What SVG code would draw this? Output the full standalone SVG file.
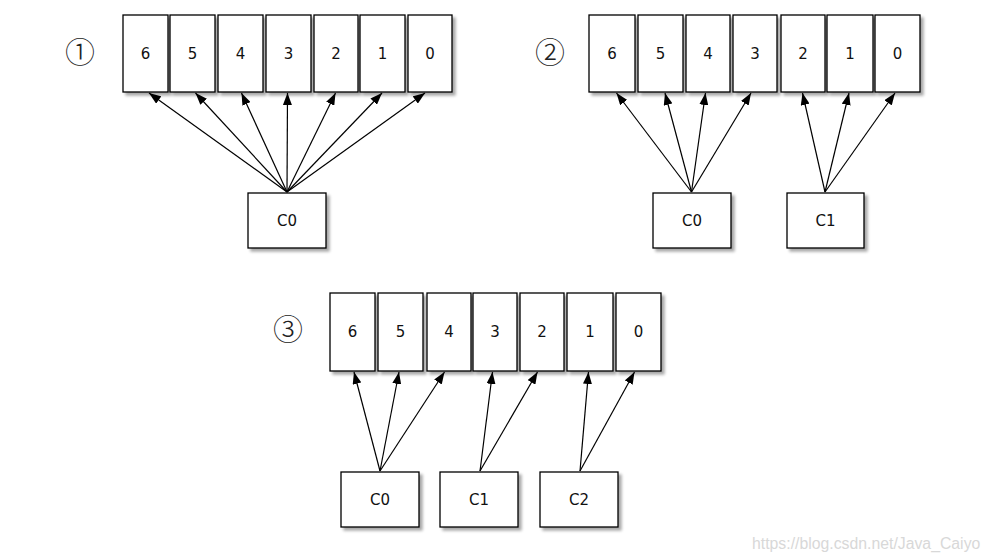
<svg xmlns="http://www.w3.org/2000/svg" width="992" height="560" viewBox="0 0 992 560">
<style>
.b{fill:#fff;stroke:#000;stroke-width:1.3;filter:url(#sh)}
.t{font-family:"DejaVu Sans","Liberation Sans",Arial,sans-serif;font-size:15px;fill:#111;text-anchor:middle}
.n{font-family:"Noto Sans CJK SC","DejaVu Sans",serif;font-size:30px;fill:#222;text-anchor:middle;font-weight:300}
.c line{stroke:#000;stroke-width:1.2;marker-end:url(#ah)}
.w{font-family:"Liberation Sans",Arial,sans-serif;font-size:15.8px;fill:#d8d8d8}
</style>
<defs>
<filter id="sh" x="-20%" y="-20%" width="150%" height="150%">
<feGaussianBlur in="SourceAlpha" stdDeviation="1.6"/>
<feOffset dx="2.5" dy="2.5" result="o"/>
<feComponentTransfer><feFuncA type="linear" slope="0.35"/></feComponentTransfer>
<feMerge><feMergeNode/><feMergeNode in="SourceGraphic"/></feMerge>
</filter>
<marker id="ah" viewBox="0 0 12 9" refX="12" refY="4.5" markerWidth="12" markerHeight="9" markerUnits="userSpaceOnUse" orient="auto">
<path d="M0,0 L12,4.5 L0,9 z" fill="#000"/>
</marker>
</defs>
<rect width="992" height="560" fill="#fff"/>

<!-- Diagram 1 -->
<text class="n" x="80" y="63">①</text>
<g id="d1-6"><rect class="b" x="123" y="15" width="45" height="77"/><text class="t" x="145.5" y="59">6</text></g>
<g id="d1-5"><rect class="b" x="170" y="15" width="45" height="77"/><text class="t" x="192.5" y="59">5</text></g>
<g id="d1-4"><rect class="b" x="218" y="15" width="45" height="77"/><text class="t" x="240.5" y="59">4</text></g>
<g id="d1-3"><rect class="b" x="266" y="15" width="45" height="77"/><text class="t" x="288.5" y="59">3</text></g>
<g id="d1-2"><rect class="b" x="314" y="15" width="44" height="77"/><text class="t" x="336" y="59">2</text></g>
<g id="d1-1"><rect class="b" x="360" y="15" width="45" height="77"/><text class="t" x="382.5" y="59">1</text></g>
<g id="d1-0"><rect class="b" x="408" y="15" width="44" height="77"/><text class="t" x="430" y="59">0</text></g>
<g id="d1-c0"><rect class="b" x="248" y="193" width="78" height="55"/><text class="t" x="287" y="226">C0</text></g>

<!-- Diagram 2 -->
<text class="n" x="550" y="63">②</text>
<g id="d2-6"><rect class="b" x="589" y="15" width="46" height="77"/><text class="t" x="612" y="59">6</text></g>
<g id="d2-5"><rect class="b" x="638" y="15" width="45" height="77"/><text class="t" x="660.5" y="59">5</text></g>
<g id="d2-4"><rect class="b" x="686" y="15" width="44" height="77"/><text class="t" x="708" y="59">4</text></g>
<g id="d2-3"><rect class="b" x="733" y="15" width="44" height="77"/><text class="t" x="755" y="59">3</text></g>
<g id="d2-2"><rect class="b" x="781" y="15" width="44" height="77"/><text class="t" x="803" y="59">2</text></g>
<g id="d2-1"><rect class="b" x="827" y="15" width="46" height="77"/><text class="t" x="850" y="59">1</text></g>
<g id="d2-0"><rect class="b" x="875" y="15" width="45" height="77"/><text class="t" x="897.5" y="59">0</text></g>
<g id="d2-c0"><rect class="b" x="653" y="193" width="78" height="55"/><text class="t" x="692" y="226">C0</text></g>
<g id="d2-c1"><rect class="b" x="787" y="193" width="77" height="55"/><text class="t" x="825.5" y="226">C1</text></g>

<!-- Diagram 3 -->
<text class="n" x="288" y="340">③</text>
<g id="d3-6"><rect class="b" x="330" y="293" width="45" height="78"/><text class="t" x="352.5" y="337">6</text></g>
<g id="d3-5"><rect class="b" x="378" y="293" width="45" height="78"/><text class="t" x="400.5" y="337">5</text></g>
<g id="d3-4"><rect class="b" x="427" y="293" width="44" height="78"/><text class="t" x="449" y="337">4</text></g>
<g id="d3-3"><rect class="b" x="473" y="293" width="44" height="78"/><text class="t" x="495" y="337">3</text></g>
<g id="d3-2"><rect class="b" x="520" y="293" width="44" height="78"/><text class="t" x="542" y="337">2</text></g>
<g id="d3-1"><rect class="b" x="567" y="293" width="46" height="78"/><text class="t" x="590" y="337">1</text></g>
<g id="d3-0"><rect class="b" x="616" y="293" width="45" height="78"/><text class="t" x="638.5" y="337">0</text></g>
<g id="d3-c0"><rect class="b" x="341" y="472" width="78" height="55"/><text class="t" x="380" y="505">C0</text></g>
<g id="d3-c1"><rect class="b" x="440" y="472" width="78" height="55"/><text class="t" x="479" y="505">C1</text></g>
<g id="d3-c2"><rect class="b" x="540" y="472" width="78" height="55"/><text class="t" x="579" y="505">C2</text></g>

<g id="connectors" class="c">
<line x1="287" y1="192" x2="149" y2="93"/>
<line x1="287" y1="192" x2="195.5" y2="93"/>
<line x1="287" y1="192" x2="241.5" y2="93"/>
<line x1="287" y1="192" x2="287.5" y2="93"/>
<line x1="287" y1="192" x2="335.5" y2="93"/>
<line x1="287" y1="192" x2="382" y2="93"/>
<line x1="287" y1="192" x2="425" y2="93"/>

<line x1="691.5" y1="192" x2="616.5" y2="93"/>
<line x1="691.5" y1="192" x2="665" y2="93"/>
<line x1="691.5" y1="192" x2="705.5" y2="93"/>
<line x1="691.5" y1="192" x2="751" y2="93"/>
<line x1="825" y1="192" x2="802.5" y2="93"/>
<line x1="825" y1="192" x2="849" y2="93"/>
<line x1="825" y1="192" x2="895" y2="93"/>

<line x1="380" y1="471" x2="354" y2="372"/>
<line x1="380" y1="471" x2="399" y2="372"/>
<line x1="380" y1="471" x2="444.5" y2="372"/>
<line x1="480" y1="471" x2="492.5" y2="372"/>
<line x1="480" y1="471" x2="537.5" y2="372"/>
<line x1="580" y1="471" x2="588.5" y2="372"/>
<line x1="580" y1="471" x2="634.5" y2="372"/>
</g>

<text class="w" x="752" y="549">https://blog.csdn.net/Java_Caiyo</text>
</svg>
